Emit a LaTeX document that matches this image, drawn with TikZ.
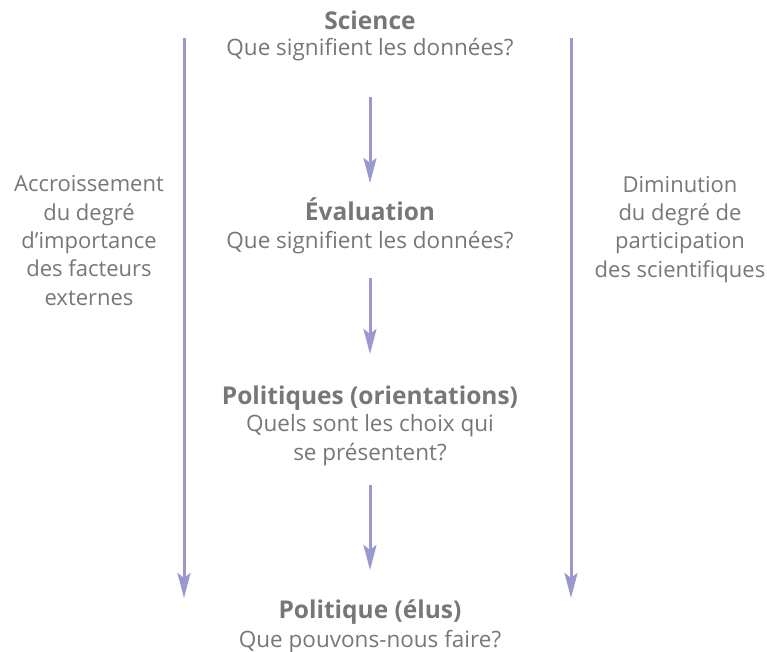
\documentclass[tikz,border=0pt]{standalone}
\usepackage{fontspec}
\setmainfont{Open Sans}
\usetikzlibrary{arrows.meta}
\definecolor{txt}{HTML}{77777A}
\definecolor{arr}{HTML}{9A98CC}
\begin{document}
\begin{tikzpicture}[x=1pt,y=-1pt,
  lbl/.style={text=txt,font=\fontsize{22.5}{28.3}\selectfont,align=center,inner sep=0pt,anchor=base},
  side/.style={lbl,font=\fontsize{22}{28.3}\selectfont},
  ttl/.style={text=txt,font=\fontsize{24.5}{28.3}\selectfont\bfseries,inner sep=0pt,anchor=base},
  flow/.style={draw=arr,line width=3pt,-{Stealth[length=25pt,width=13pt,inset=5pt]}}]
\useasboundingbox (0,0) rectangle (767,652);
% stage nodes (anchor base = baseline of last line)
\node[ttl] (t1) at (370,30) {Science};
\node[lbl] (s1) at (370,56) {Que signifient les données?};
\node[ttl] (t2) at (370,221) {Évaluation};
\node[lbl] (s2) at (370,248) {Que signifient les données?};
\node[ttl] (t3) at (370,404) {Politiques (orientations)};
\node[lbl] (s3) at (370,460) {Quels sont les choix qui\\se présentent?};
\node[ttl] (t4) at (370,618) {Politique (élus)};
\node[lbl] (s4) at (370,647) {Que pouvons-nous faire?};
% side texts
\node[side] (left) at (89,305) {Accroissement\\du degré\\d’importance\\des facteurs\\externes};
\node[side] (right) at (680,277) {Diminution\\du degré de\\participation\\des scientifiques};
% arrow endpoints
\coordinate (a1s) at (370,97.5); \coordinate (a1e) at (370,183);
\coordinate (a2s) at (370,278);  \coordinate (a2e) at (370,354);
\coordinate (a3s) at (370,485);  \coordinate (a3e) at (370,570);
\coordinate (ls) at (184,38); \coordinate (le) at (184,598);
\coordinate (rs) at (571,38); \coordinate (re) at (571,598);
\draw[flow] (a1s) -- (a1e);
\draw[flow] (a2s) -- (a2e);
\draw[flow] (a3s) -- (a3e);
\draw[flow] (ls) -- (le);
\draw[flow] (rs) -- (re);
\end{tikzpicture}
\end{document}
